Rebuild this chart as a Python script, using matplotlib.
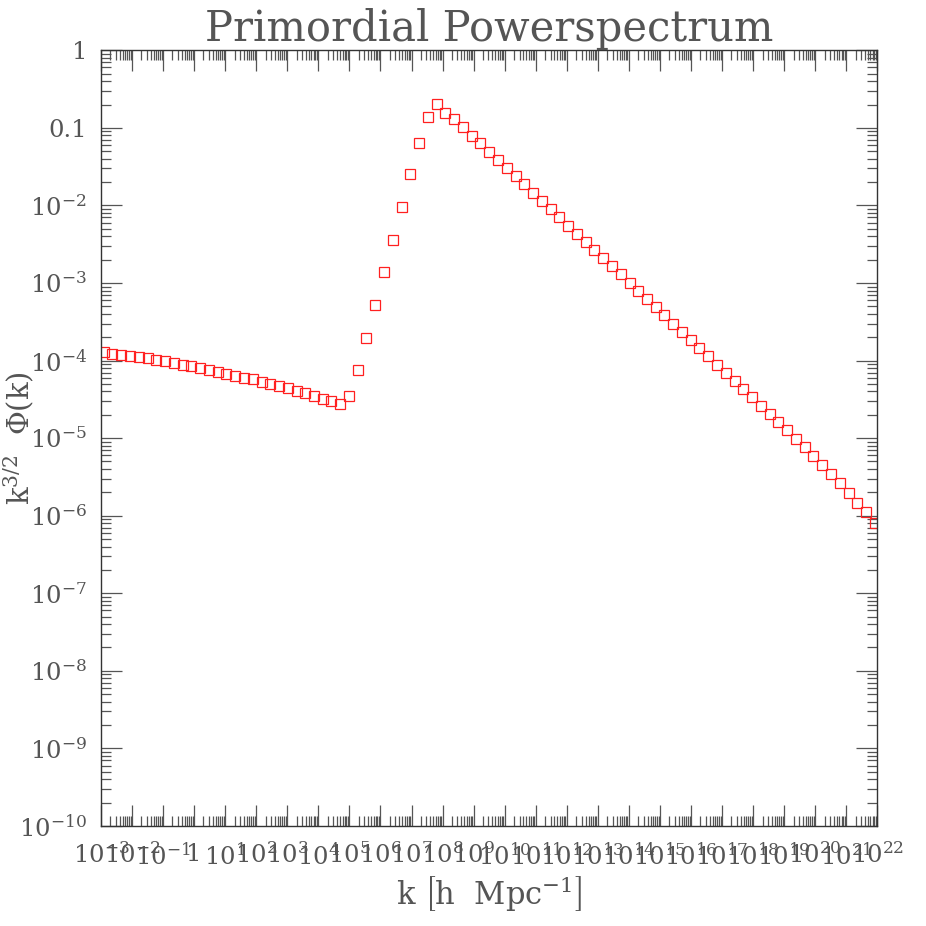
import numpy as np
import matplotlib
matplotlib.use("Agg")
import matplotlib.pyplot as plt
from matplotlib.ticker import FixedLocator, LogLocator, NullFormatter

plt.rcParams['font.family'] = ['DejaVu Serif']
plt.rcParams['mathtext.fontset'] = 'dejavuserif'

# log10 of k [h/Mpc]
log_k = [-2.91, -2.63, -2.35, -2.06, -1.78, -1.50, -1.22, -0.94, -0.65, -0.37,
         -0.09, 0.19, 0.48, 0.76, 1.04, 1.32, 1.60, 1.89, 2.17, 2.45,
         2.73, 3.01, 3.30, 3.58, 3.86, 4.14, 4.42, 4.71, 4.99, 5.27,
         5.55, 5.84, 6.12, 6.40, 6.68, 6.96, 7.25, 7.53, 7.81, 8.09,
         8.37, 8.66, 8.94, 9.22, 9.50, 9.78, 10.07, 10.35, 10.63, 10.91,
         11.20, 11.48, 11.76, 12.04, 12.32, 12.61, 12.89, 13.17, 13.45, 13.73,
         14.02, 14.30, 14.58, 14.86, 15.14, 15.43, 15.71, 15.99, 16.27, 16.56,
         16.84, 17.12, 17.40, 17.68, 17.97, 18.25, 18.53, 18.81, 19.09, 19.38,
         19.66, 19.94, 20.22, 20.50, 20.79, 21.07, 21.35, 21.63, 21.91]

# log10 of k^{3/2} Phi(k)
log_p = [-3.886, -3.911, -3.924, -3.937, -3.958, -3.971, -3.989, -4.009, -4.031, -4.053,
         -4.074, -4.096, -4.118, -4.143, -4.169, -4.195, -4.221, -4.241, -4.276, -4.302,
         -4.332, -4.357, -4.392, -4.422, -4.457, -4.491, -4.525, -4.564, -4.453, -4.118,
         -3.705, -3.284, -2.858, -2.442, -2.016, -1.595, -1.195, -0.856, -0.692, -0.804,
         -0.886, -0.989, -1.101, -1.199, -1.307, -1.410, -1.517, -1.624, -1.727, -1.836,
         -1.943, -2.046, -2.153, -2.261, -2.364, -2.467, -2.574, -2.678, -2.785, -2.888,
         -2.996, -3.103, -3.206, -3.313, -3.416, -3.525, -3.628, -3.735, -3.842, -3.945,
         -4.053, -4.156, -4.263, -4.370, -4.473, -4.582, -4.689, -4.792, -4.899, -5.007,
         -5.114, -5.226, -5.342, -5.458, -5.582, -5.707, -5.840, -5.952, -6.090]

x_exps = list(range(-3, 23))
y_exps = list(range(-10, 1))
x_labels = ['1' if e == 0 else r'$10^{%d}$' % e for e in x_exps]
y_labels = ['1' if e == 0 else ('0.1' if e == -1 else r'$10^{%d}$' % e) for e in y_exps]

k = 10.0 ** np.array(log_k)
p = 10.0 ** np.array(log_p)

txt = '#555555'
fig = plt.figure(figsize=(9.26, 9.26), dpi=100)
ax = fig.add_axes([0.109, 0.108, 0.8385, 0.8377])

ax.plot(k, p, ls='none', marker='s', ms=7, mfc='none', mec='#ff2020', mew=0.9)

ax.set_xscale('log')
ax.set_yscale('log')
ax.set_xlim(1e-3, 1e22)
ax.set_ylim(1e-10, 1)

ax.xaxis.set_major_locator(FixedLocator([10.0 ** e for e in x_exps]))
ax.yaxis.set_major_locator(FixedLocator([10.0 ** e for e in y_exps]))
ax.set_xticklabels(x_labels)
ax.set_yticklabels(y_labels)
ax.xaxis.set_minor_locator(LogLocator(base=10, subs=np.arange(2, 10), numticks=200))
ax.yaxis.set_minor_locator(LogLocator(base=10, subs=np.arange(2, 10), numticks=200))
ax.xaxis.set_minor_formatter(NullFormatter())
ax.yaxis.set_minor_formatter(NullFormatter())

ax.tick_params(which='both', direction='in', top=True, right=True, color='#555555', width=0.9)
ax.tick_params(which='major', length=15)
ax.tick_params(which='minor', length=7.5)
ax.tick_params(axis='both', labelsize=17.5, labelcolor=txt)
ax.tick_params(axis='x', pad=12)
ax.tick_params(axis='y', pad=10)
for s in ax.spines.values():
    s.set_color('#333333')
    s.set_linewidth(1.0)

ax.set_title('Primordial Powerspectrum', fontsize=30, color=txt, pad=4)
ax.set_xlabel(r'k $\left[\mathrm{h\ \ Mpc^{-1}}\right]$', fontsize=22, color=txt, labelpad=4)
ax.set_ylabel(r'k$^{3/2}$  $\Phi$(k)', fontsize=21, color=txt)
ax.yaxis.set_label_coords(-0.083, 0.5)

fig.savefig('out.png', dpi=100)
